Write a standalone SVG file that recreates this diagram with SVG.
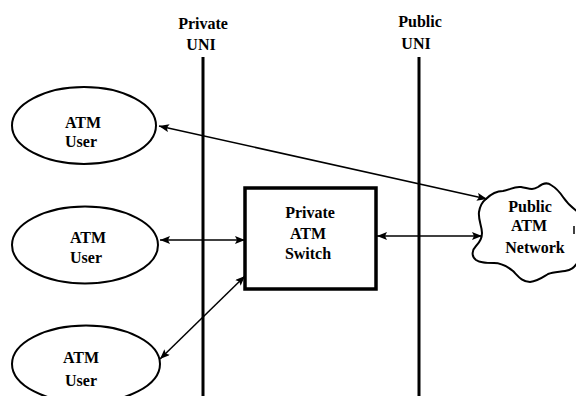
<svg xmlns="http://www.w3.org/2000/svg" width="576" height="396" viewBox="0 0 576 396">
  <style>
    .lbl { font-family: "Liberation Serif", "Times New Roman", serif; font-weight: bold; font-size: 16px; fill: #000; text-anchor: middle; }
    .uni { stroke: #000; stroke-width: 3; fill: none; }
    .user { fill: #fff; stroke: #000; stroke-width: 2; }
    .switch { fill: #fff; stroke: #000; stroke-width: 3.5; }
    .cloud { fill: #fff; stroke: #000; stroke-width: 2; stroke-linejoin: round; }
    .link { stroke: #000; stroke-width: 1.5; fill: none; marker-start: url(#head); marker-end: url(#head); }
  </style>
  <defs>
    <marker id="head" viewBox="0 0 10 8" refX="10" refY="4" markerWidth="10" markerHeight="8" markerUnits="userSpaceOnUse" orient="auto-start-reverse">
      <path d="M0,0 L10,4 L0,8 L2,4 Z" fill="#000"/>
    </marker>
  </defs>
  <rect width="576" height="396" fill="#fff"/>

  <!-- interface boundaries -->
  <g id="private-uni">
    <line class="uni" x1="203" y1="57" x2="203" y2="396"/>
    <text class="lbl" x="203" y="29">Private</text>
    <text class="lbl" x="201" y="50">UNI</text>
  </g>
  <g id="public-uni">
    <line class="uni" x1="419" y1="57" x2="419" y2="396"/>
    <text class="lbl" x="420" y="27">Public</text>
    <text class="lbl" x="416" y="49">UNI</text>
  </g>

  <!-- end systems -->
  <g id="user-1">
    <ellipse class="user" cx="84" cy="125.5" rx="72" ry="38.5"/>
    <text class="lbl" x="83" y="128">ATM</text>
    <text class="lbl" x="81" y="147">User</text>
  </g>
  <g id="user-2">
    <ellipse class="user" cx="85" cy="245" rx="73" ry="38.5"/>
    <text class="lbl" x="88" y="243">ATM</text>
    <text class="lbl" x="86" y="263">User</text>
  </g>
  <g id="user-3">
    <ellipse class="user" cx="86" cy="364" rx="74" ry="38.5"/>
    <text class="lbl" x="81" y="363">ATM</text>
    <text class="lbl" x="81" y="386">User</text>
  </g>

  <!-- private switch -->
  <g id="private-switch">
    <rect class="switch" x="245" y="188" width="131" height="101"/>
    <text class="lbl" x="310" y="218">Private</text>
    <text class="lbl" x="308" y="239">ATM</text>
    <text class="lbl" x="308" y="259">Switch</text>
  </g>

  <!-- public network cloud -->
  <g id="public-network">
    <path class="cloud" d="M486,199 C492,193 497,191 503,191 C510,190 514,186 521,187 C528,188 532,191 538,187 C543,183 547,182 551,185 C556,188 559,191 563,197 C567,203 571,207 578,212 L578,262 C574,268 571,270 565,271 C559,272 553,272 548,274 C543,277 538,281 530,282 C522,282 518,276 513,271 C508,267 502,263 494,263 C486,263 480,263 476,260 C471,256 472,250 476,246 C480,242 482,238 482,233 C482,226 478,220 479,212 C480,206 482,202 486,199 Z"/>
    <line x1="574" y1="226" x2="574" y2="234" stroke="#000" stroke-width="1.5"/>
    <text class="lbl" x="530" y="212">Public</text>
    <text class="lbl" x="529" y="231">ATM</text>
    <text class="lbl" x="535" y="253">Network</text>
  </g>

  <!-- links -->
  <g id="connectors">
    <line class="link" x1="159" y1="126" x2="487" y2="199"/>
    <line class="link" x1="160" y1="240" x2="245" y2="240"/>
    <line class="link" x1="160" y1="359" x2="245" y2="276"/>
    <line class="link" x1="377" y1="236" x2="482" y2="236"/>
  </g>
</svg>
